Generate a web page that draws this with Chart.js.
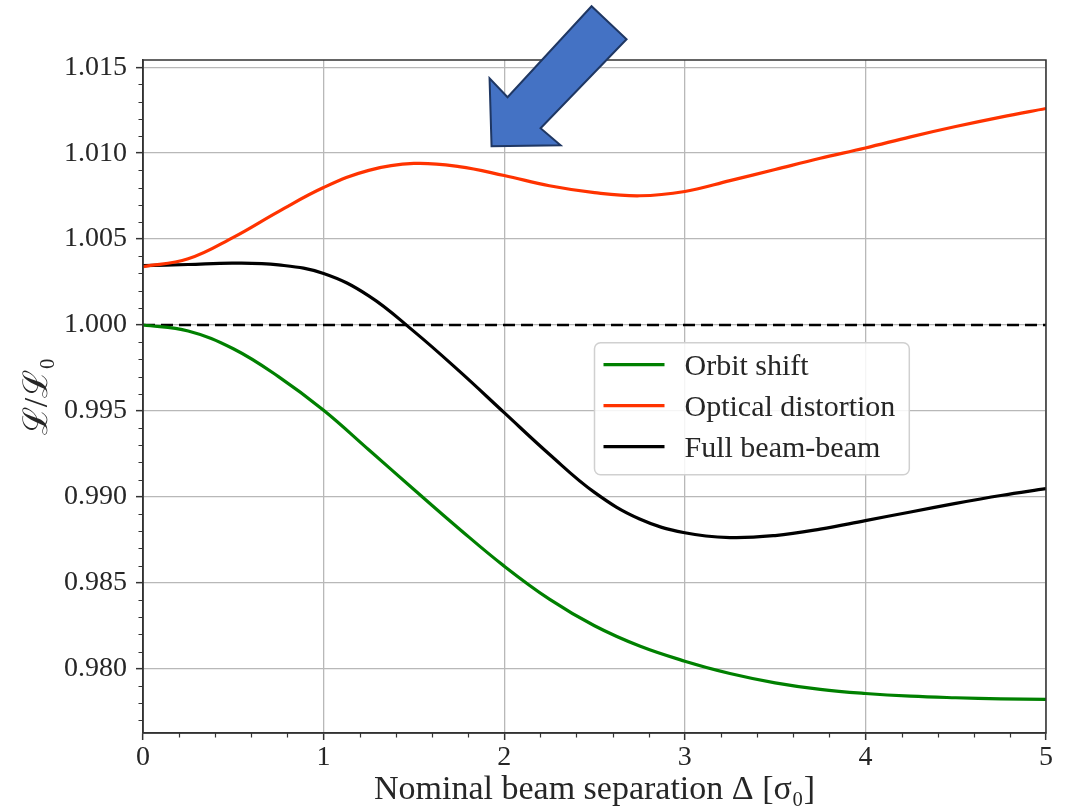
<!DOCTYPE html>
<html>
<head>
<meta charset="utf-8">
<script src="https://cdn.jsdelivr.net/npm/chart.js@4/dist/chart.umd.min.js"></script>
<style>
  html, body { margin: 0; padding: 0; background: #ffffff; }
  canvas { display: block; }
</style>
</head>
<body>
<canvas id="lumiChart" width="1073" height="809"></canvas>
<script>
// Nominal beam separation in units of sigma_0
const separation = [0, 0.25, 0.5, 0.75, 1.0, 1.25, 1.5, 1.75, 2.0, 2.25, 2.5,
                    2.75, 3.0, 3.25, 3.5, 3.75, 4.0, 4.25, 4.5, 4.75, 5.0];

// Luminosity ratio L/L0 for each beam-beam contribution
const orbitShift = [1.0000, 0.99965, 0.99862, 0.99700, 0.99504, 0.99274, 0.99043, 0.98815, 0.98597, 0.98405, 0.98250,
                    0.98132, 0.98044, 0.97972, 0.97918, 0.97880, 0.97856, 0.97840, 0.97831, 0.97825, 0.97822];
const opticalDistortion = [1.00340, 1.00385, 1.00510, 1.00660, 1.00800, 1.00900, 1.00940, 1.00922, 1.00870, 1.00810, 1.00770,
                           1.00752, 1.00777, 1.00840, 1.00905, 1.00970, 1.01030, 1.01095, 1.01155, 1.01210, 1.01260];
const fullBeamBeam = [1.00345, 1.00352, 1.00360, 1.00350, 1.00300, 1.00170, 0.99963, 0.99733, 0.99490, 0.99248, 0.99026,
                      0.98871, 0.98791, 0.98763, 0.98775, 0.98812, 0.98862, 0.98912, 0.98962, 0.99008, 0.99048];

// Unperturbed reference level
const referenceX = [0, 5];
const referenceLevel = [1.0, 1.0];

const seriesLabels = ['Orbit shift', 'Optical distortion', 'Full beam-beam'];
const seriesColors = ['#008000', '#ff3300', '#000000'];

const xTickValues = [0, 1, 2, 3, 4, 5];
const yTickValues = [0.980, 0.985, 0.990, 0.995, 1.000, 1.005, 1.010, 1.015];

// Where the highlight arrow points (data coordinates)
const arrowTip = { x: 1.93, y: 1.0104 };
// Where the legend box's top-left corner sits (data coordinates)
const legendAnchor = { x: 2.50, y: 0.99897 };

const serif = "'Liberation Serif', 'DejaVu Serif', serif";
const textColor = '#262626';

function toPoints(xs, ys) { return xs.map((x, i) => ({ x: x, y: ys[i] })); }

const seriesValues = [orbitShift, opticalDistortion, fullBeamBeam];
const datasets = seriesValues.map((vals, i) => ({
  label: seriesLabels[i],
  data: toPoints(separation, vals),
  borderColor: seriesColors[i],
  backgroundColor: seriesColors[i],
  borderWidth: 3.2,
  pointRadius: 0,
  fill: false,
  tension: 0.4
}));
datasets.push({
  label: 'reference',
  data: toPoints(referenceX, referenceLevel),
  borderColor: '#000000',
  borderWidth: 2.5,
  borderDash: [12, 6],
  pointRadius: 0,
  fill: false
});

// Frame, minor ticks, in-plot legend and the arrow annotation
const decorations = {
  id: 'decorations',
  afterDraw(chart) {
    const { ctx, chartArea: a, scales: { x, y } } = chart;
    ctx.save();

    // minor ticks
    ctx.strokeStyle = '#333333';
    ctx.lineWidth = 1.2;
    ctx.beginPath();
    for (let k = 977; k <= 1015; k++) {
      if (k % 5 === 0) continue;
      const py = Math.round(y.getPixelForValue(k / 1000)) + 0.5;
      ctx.moveTo(a.left - 4.5, py);
      ctx.lineTo(a.left, py);
    }
    for (let k = 1; k < 25; k++) {
      if (k % 5 === 0) continue;
      const px = Math.round(x.getPixelForValue(k / 5)) + 0.5;
      ctx.moveTo(px, a.bottom);
      ctx.lineTo(px, a.bottom + 4.5);
    }
    ctx.stroke();

    // full frame around the plot area
    ctx.lineWidth = 1.5;
    ctx.strokeRect(a.left, a.top, a.right - a.left, a.bottom - a.top);

    // legend box
    const lx = x.getPixelForValue(legendAnchor.x);
    const ly = y.getPixelForValue(legendAnchor.y);
    const shown = chart.data.datasets.slice(0, 3);
    ctx.font = '30px ' + serif;
    const textW = Math.max(...shown.map(d => ctx.measureText(d.label).width));
    const padL = 9, handle = 61, gap = 20, padR = 14, rowH = 41;
    const bw = padL + handle + gap + textW + padR;
    const bh = 132;
    ctx.beginPath();
    ctx.roundRect(lx, ly, bw, bh, 6);
    ctx.fillStyle = 'rgba(255,255,255,0.85)';
    ctx.fill();
    ctx.strokeStyle = '#d0d0d0';
    ctx.lineWidth = 1.5;
    ctx.stroke();
    ctx.textBaseline = 'middle';
    ctx.textAlign = 'left';
    shown.forEach((d, i) => {
      const cy = ly + 22 + i * rowH;
      ctx.strokeStyle = d.borderColor;
      ctx.lineWidth = 3.2;
      ctx.beginPath();
      ctx.moveTo(lx + padL, cy);
      ctx.lineTo(lx + padL + handle, cy);
      ctx.stroke();
      ctx.fillStyle = textColor;
      ctx.fillText(d.label, lx + padL + handle + gap, cy + 2);
    });

    // block arrow pointing at the optical-distortion bump
    const tx = x.getPixelForValue(arrowTip.x);
    const ty = y.getPixelForValue(arrowTip.y);
    const outline = [[0, 0], [-2, -68], [16, -49], [100, -140], [135, -107], [49, -18], [69, -1]];
    ctx.beginPath();
    outline.forEach(([dx, dy], i) => {
      if (i === 0) ctx.moveTo(tx + dx, ty + dy); else ctx.lineTo(tx + dx, ty + dy);
    });
    ctx.closePath();
    ctx.fillStyle = '#4472c4';
    ctx.fill();
    ctx.strokeStyle = '#1f3763';
    ctx.lineWidth = 2;
    ctx.lineJoin = 'miter';
    ctx.stroke();

    ctx.restore();
  }
};

new Chart(document.getElementById('lumiChart'), {
  type: 'line',
  data: { datasets: datasets },
  options: {
    responsive: false,
    devicePixelRatio: 1,
    animation: false,
    layout: { padding: { top: 60, right: 27, bottom: 0, left: 0 } },
    plugins: {
      legend: { display: false },
      tooltip: { enabled: false }
    },
    scales: {
      x: {
        type: 'linear',
        min: 0,
        max: 5,
        afterBuildTicks: s => { s.ticks = xTickValues.map(v => ({ value: v })); },
        afterFit: s => { s.height = 76; },
        ticks: {
          font: { family: serif, size: 28 },
          color: textColor,
          padding: 1,
          maxRotation: 0,
          callback: v => String(v)
        },
        grid: { color: '#b8b8b8', lineWidth: 1.3, tickLength: 7, tickColor: '#333333', tickWidth: 1.5 },
        border: { display: true, color: '#333333', width: 1.5 },
        title: {
          display: true,
          text: 'Nominal beam separation Δ [σ₀]',
          font: { family: serif, size: 34, lineHeight: 1.0 },
          color: textColor,
          padding: { top: 0, bottom: 2 }
        }
      },
      y: {
        type: 'linear',
        min: 0.97626,
        max: 1.01542,
        afterBuildTicks: s => { s.ticks = yTickValues.map(v => ({ value: v })); },
        afterFit: s => { s.width = 143; },
        ticks: {
          font: { family: serif, size: 28 },
          color: textColor,
          padding: 9,
          callback: v => Number(v).toFixed(3)
        },
        grid: { color: '#b8b8b8', lineWidth: 1.3, tickLength: 7, tickColor: '#333333', tickWidth: 1.5 },
        border: { display: true, color: '#333333', width: 1.5 },
        title: {
          display: true,
          text: 'ℒ/ℒ₀',
          font: { family: serif, size: 34 },
          color: textColor,
          padding: { top: 18, bottom: 0 }
        }
      }
    }
  },
  plugins: [decorations]
});
</script>
</body>
</html>
